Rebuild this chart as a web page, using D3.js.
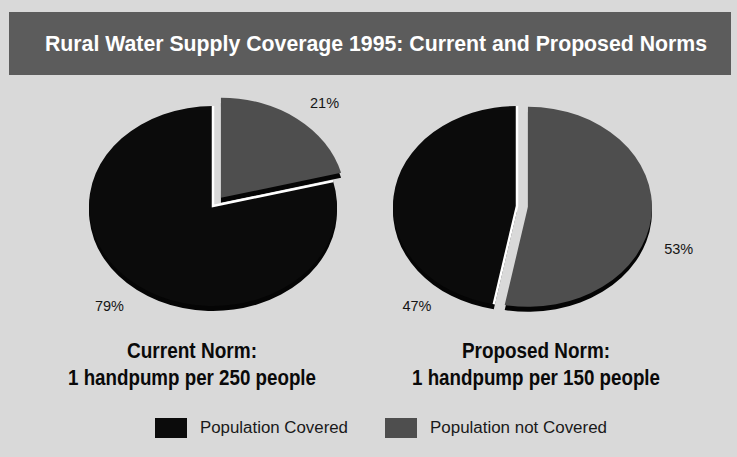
<!DOCTYPE html>
<html>
<head>
<meta charset="utf-8">
<script src="https://cdn.jsdelivr.net/npm/d3@7"></script>
<style>
  body { margin: 0; background: #d9d9d9; }
  svg { display: block; }
</style>
</head>
<body>
<div id="chart"></div>
<script>
// data
var title = "Rural Water Supply Coverage 1995: Current and Proposed Norms";
var categories = ["Population not Covered", "Population Covered"];
var legendOrder = ["Population Covered", "Population not Covered"];
var currentNorm = [21, 79];
var proposedNorm = [53, 47];
var normTitles = ["Current Norm:", "Proposed Norm:"];
var normSubtitles = ["1 handpump per 250 people", "1 handpump per 150 people"];

var width = 737, height = 457;

var svg = d3.select("#chart")
  .append("svg")
    .attr("width", width)
    .attr("height", height);

svg.append("rect")
  .attr("width", width)
  .attr("height", height)
  .attr("fill", "#d9d9d9");

// title band
svg.append("rect")
  .attr("x", 9)
  .attr("y", 12)
  .attr("width", 722)
  .attr("height", 63)
  .attr("fill", "#5c5c5c");

svg.append("text")
  .attr("x", 376)
  .attr("y", 51)
  .attr("text-anchor", "middle")
  .attr("textLength", 662)
  .attr("lengthAdjust", "spacingAndGlyphs")
  .style("font-family", "'Liberation Sans', Arial, sans-serif")
  .style("font-weight", "bold")
  .style("font-size", "22px")
  .style("fill", "#ffffff")
  .text(title);

var color = d3.scaleOrdinal()
  .domain(categories)
  .range(["#4e4e4e", "#0b0b0b"]);

var rx = 124, ry = 100, depth = 5;
var k = ry / rx;

var pies = [
  { values: currentNorm, cx: 213, cy: 206, explode: 13, labelAngles: [41, 220], labelR: [170, 161],
    textX: 192, t1w: 130, t2w: 248 },
  { values: proposedNorm, cx: 517, cy: 206, explode: 11, labelAngles: [108, 219], labelR: [170, 159],
    textX: 536, t1w: 148, t2w: 248 }
];

var pie = d3.pie().sort(null).value(function(d) { return d.value; });
var arc = d3.arc().innerRadius(0).outerRadius(rx);

pies.forEach(function(p, pi) {
  var arcs = pie(categories.map(function(c, i) { return { key: c, value: p.values[i] }; }));

  function offset(d) {
    if (d.index !== 0) return [0, 0];
    var a = (d.startAngle + d.endAngle) / 2;
    return [p.explode * Math.sin(a), -p.explode * Math.cos(a)];
  }

  // 3D side
  var side = svg.append("g")
    .attr("transform", "translate(" + p.cx + "," + (p.cy + depth) + ") scale(1," + k + ")");
  side.selectAll("path")
    .data(arcs)
    .enter()
    .append("path")
      .attr("d", arc)
      .attr("transform", function(d) { var o = offset(d); return "translate(" + o[0] + "," + o[1] + ")"; })
      .attr("fill", "#050505");

  // top face
  var top = svg.append("g")
    .attr("transform", "translate(" + p.cx + "," + p.cy + ") scale(1," + k + ")");
  top.selectAll("path")
    .data(arcs)
    .enter()
    .append("path")
      .attr("d", arc)
      .attr("transform", function(d) { var o = offset(d); return "translate(" + o[0] + "," + o[1] + ")"; })
      .attr("fill", function(d) { return color(d.data.key); });

  // white cut line on the main slice edges
  var main = arcs[1];
  top.append("path")
    .attr("d", "M" + (rx * Math.sin(main.startAngle)) + "," + (-rx * Math.cos(main.startAngle)) + "L0,0L" +
               (rx * Math.sin(main.endAngle)) + "," + (-rx * Math.cos(main.endAngle)))
    .attr("fill", "none")
    .attr("stroke", "#ffffff")
    .attr("stroke-width", 2.5)
    .attr("vector-effect", "non-scaling-stroke");

  // percent labels
  arcs.forEach(function(d, i) {
    var a = p.labelAngles[i] * Math.PI / 180;
    svg.append("text")
      .attr("x", p.cx + p.labelR[i] * Math.sin(a))
      .attr("y", p.cy - p.labelR[i] * Math.cos(a) * k)
      .attr("text-anchor", "middle")
      .attr("dominant-baseline", "central")
      .attr("textLength", 29)
      .attr("lengthAdjust", "spacingAndGlyphs")
      .style("font-family", "'Liberation Sans', Arial, sans-serif")
      .style("font-size", "15px")
      .style("fill", "#151515")
      .text(d.data.value + "%");
  });

  // norm captions
  svg.append("text")
    .attr("x", p.textX)
    .attr("y", 358)
    .attr("text-anchor", "middle")
    .attr("textLength", p.t1w)
    .attr("lengthAdjust", "spacingAndGlyphs")
    .style("font-family", "'Liberation Sans', Arial, sans-serif")
    .style("font-weight", "bold")
    .style("font-size", "22px")
    .style("fill", "#0a0a0a")
    .text(normTitles[pi]);

  svg.append("text")
    .attr("x", p.textX)
    .attr("y", 385)
    .attr("text-anchor", "middle")
    .attr("textLength", p.t2w)
    .attr("lengthAdjust", "spacingAndGlyphs")
    .style("font-family", "'Liberation Sans', Arial, sans-serif")
    .style("font-weight", "bold")
    .style("font-size", "22px")
    .style("fill", "#0a0a0a")
    .text(normSubtitles[pi]);
});

// legend
var legendX = [155, 385], legendW = [148, 177];
var legend = svg.selectAll(".legend")
  .data(legendOrder)
  .enter()
  .append("g")
    .attr("class", "legend")
    .attr("transform", function(d, i) { return "translate(" + legendX[i] + ",418)"; });

legend.append("rect")
  .attr("width", 32)
  .attr("height", 20)
  .attr("fill", function(d) { return color(d); });

legend.append("text")
  .attr("x", 45)
  .attr("y", 15)
  .attr("textLength", function(d, i) { return legendW[i]; })
  .attr("lengthAdjust", "spacingAndGlyphs")
  .style("font-family", "'Liberation Sans', Arial, sans-serif")
  .style("font-size", "16px")
  .style("fill", "#1a1a1a")
  .text(function(d) { return d; });
</script>
</body>
</html>
